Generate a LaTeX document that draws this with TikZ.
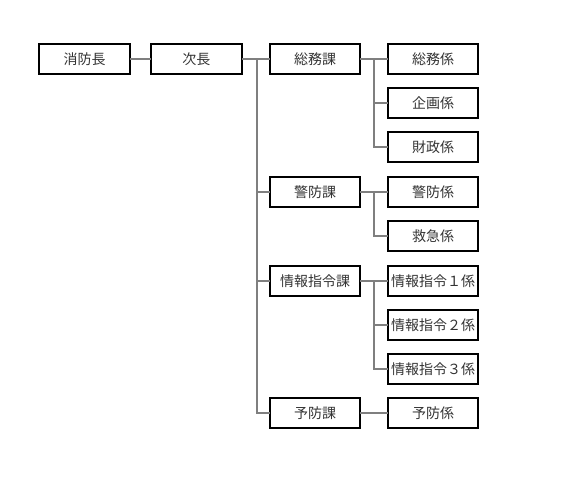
\documentclass[tikz,border=0pt]{standalone}
\usepackage{fontspec}
\usepackage{xcolor}
\usepackage{tikz}
\usetikzlibrary{positioning,calc}
\newfontfamily\jpfont{Noto Sans CJK JP}
\definecolor{ink}{HTML}{333333}
\definecolor{wire}{HTML}{7F7F7F}

\begin{document}
\begin{tikzpicture}[
  x=0.75pt,y=-0.75pt,
  font=\jpfont\fontsize{10.5}{12}\selectfont,
  post/.style={draw=black,line width=1.5pt,minimum width=68pt,minimum height=22.5pt,inner sep=0pt,text=ink,outer sep=0pt},
  wire/.style={draw=wire,line width=1.5pt},
  node distance=10.5pt and 15pt
]
\useasboundingbox (0,0) rectangle (569,495);
% top line
\node[post] (cho) at (84.5,59.5) {消防長};
\node[post,right=16pt of cho] (jicho) {次長};
% ka column
\node[post] (soumuka) at (315,59.5) {総務課};
\node[post] (keiboka) at (315,192.5) {警防課};
\node[post] (jouhouka) at (315,281.5) {情報指令課};
\node[post] (yobouka) at (315,413.5) {予防課};
% kakari column
\node[post] (soumukakari) at (433,59.5) {総務係};
\node[post,below=of soumukakari] (kikaku) {企画係};
\node[post,below=of kikaku] (zaisei) {財政係};
\node[post] (keibokakari) at (433,192.5) {警防係};
\node[post,below=of keibokakari] (kyukyu) {救急係};
\node[post] (jouhou1) at (433,281.5) {情報指令１係};
\node[post,below=of jouhou1] (jouhou2) {情報指令２係};
\node[post,below=of jouhou2] (jouhou3) {情報指令３係};
\node[post] (yobokakari) at (433,413.5) {予防係};
% connectors
\coordinate (trunk) at (257,59.5);
\draw[wire] (cho) -- (jicho);
\draw[wire] (jicho) -- (soumuka);
\draw[wire] (trunk) |- (keiboka.west);
\draw[wire] (trunk) |- (jouhouka.west);
\draw[wire] (trunk) |- (yobouka.west);
\coordinate (br1) at (374,59.5);
\draw[wire] (soumuka) -- (soumukakari);
\draw[wire] (br1) |- (kikaku.west);
\draw[wire] (br1) |- (zaisei.west);
\coordinate (br2) at (374,192.5);
\draw[wire] (keiboka) -- (keibokakari);
\draw[wire] (br2) |- (kyukyu.west);
\coordinate (br3) at (374,281.5);
\draw[wire] (jouhouka) -- (jouhou1);
\draw[wire] (br3) |- (jouhou2.west);
\draw[wire] (br3) |- (jouhou3.west);
\draw[wire] (yobouka) -- (yobokakari);
\end{tikzpicture}
\end{document}
